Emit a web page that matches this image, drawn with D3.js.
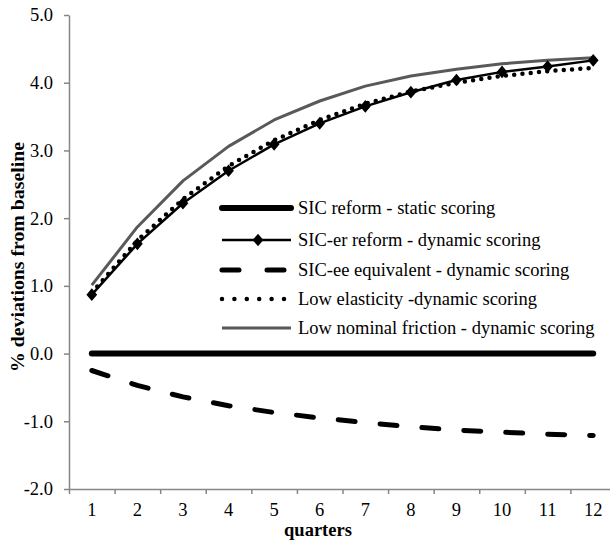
<!DOCTYPE html>
<html lang='en'>
<head>
<meta charset='utf-8'>
<title>Deviations from baseline</title>
<script type='text/javascript' src='https://cdn.jsdelivr.net/npm/d3@7/dist/d3.min.js'></script>
<style>
  body { margin: 0; background: #fff; }
  text { font-family: 'Liberation Serif', 'Times New Roman', serif; }
</style>
</head>
<body>
<script type='text/javascript'>
var quarters = [1, 2, 3, 4, 5, 6, 7, 8, 9, 10, 11, 12];
var yTicks = [-2, -1, 0, 1, 2, 3, 4, 5];

var sicStatic      = [0, 0, 0, 0, 0, 0, 0, 0, 0, 0, 0, 0];
var sicErDynamic   = [0.87, 1.62, 2.22, 2.70, 3.09, 3.40, 3.65, 3.86, 4.04, 4.16, 4.24, 4.33];
var sicEeDynamic   = [-0.25, -0.47, -0.64, -0.77, -0.87, -0.95, -1.02, -1.08, -1.13, -1.16, -1.19, -1.21];
var lowElasticity  = [0.90, 1.67, 2.28, 2.77, 3.15, 3.45, 3.69, 3.87, 4.00, 4.10, 4.17, 4.22];
var lowFriction    = [1.01, 1.87, 2.55, 3.06, 3.45, 3.73, 3.95, 4.10, 4.20, 4.28, 4.33, 4.37];

var seriesNames = [
  'SIC reform - static scoring',
  'SIC-er reform - dynamic scoring',
  'SIC-ee equivalent - dynamic scoring',
  'Low elasticity -dynamic scoring',
  'Low nominal friction - dynamic scoring'
];

var width = 610, height = 543;
var plotLeft = 69, plotRight = 616, plotTop = 15, plotBottom = 489;
var fs = 18.5;

var svg = d3.select('body').append('svg').attr('width', width).attr('height', height);

var x = d3.scaleBand().domain(quarters).range([plotLeft, plotRight]);
var xEdge = d3.scaleLinear().domain([0.5, 12.5]).range([plotLeft, plotRight]);
var y = d3.scaleLinear().domain([-2, 5]).range([plotBottom, plotTop]);
var cx = d => x(d) + x.bandwidth() / 2;

// axes
var gx = svg.append('g').attr('transform', 'translate(0,' + plotBottom + ')')
  .call(d3.axisBottom(xEdge).tickValues(d3.range(0.5, 13, 1)).tickSize(5).tickSizeOuter(0).tickFormat(''));
gx.selectAll('path, line').attr('stroke', '#868686').attr('stroke-width', 1.5);

var gxl = svg.append('g').attr('transform', 'translate(0,' + plotBottom + ')')
  .call(d3.axisBottom(x).tickSize(0).tickPadding(14));
gxl.select('.domain').remove();
gxl.selectAll('text').attr('font-size', fs).attr('fill', '#000');

var gy = svg.append('g').attr('transform', 'translate(' + plotLeft + ',0)')
  .call(d3.axisLeft(y).tickValues(yTicks).tickSize(5).tickSizeOuter(0).tickPadding(11)
    .tickFormat(d => d3.format('.1f')(d).replace('\u2212', '-')));
gy.selectAll('path, line').attr('stroke', '#868686').attr('stroke-width', 1.5);
gy.selectAll('text').attr('font-size', fs).attr('fill', '#000');

svg.append('text').attr('x', 318).attr('y', 536).attr('text-anchor', 'middle')
  .attr('font-size', fs).attr('font-weight', 'bold').text('quarters');

svg.append('text').attr('transform', 'translate(24,257) rotate(-90)').attr('text-anchor', 'middle')
  .attr('font-size', 19.8).attr('font-weight', 'bold').text('% deviations from baseline');

var line = d3.line().x((d, i) => cx(quarters[i])).y(d => y(d));

// wider diamond than d3.symbolDiamond
var wideDiamond = {
  draw: function (ctx, size) {
    var h = Math.sqrt(size) / 2, w = h * 0.85;
    ctx.moveTo(0, -h); ctx.lineTo(w, 0); ctx.lineTo(0, h); ctx.lineTo(-w, 0); ctx.closePath();
  }
};
var marker = d3.symbol().type(wideDiamond).size(160);

var styles = [
  { data: sicStatic, stroke: '#000', width: 6, dash: null, cap: 'round' },
  { data: sicErDynamic, stroke: '#000', width: 2.5, dash: null, cap: 'butt', marker: true },
  { data: sicEeDynamic, stroke: '#000', width: 5, dash: '17,25', cap: 'round' },
  { data: lowElasticity, stroke: '#000', width: 4.5, dash: '0,8.3', cap: 'round' },
  { data: lowFriction, stroke: '#595959', width: 3, dash: null, cap: 'butt' }
];

var drawOrder = [4, 0, 2, 1, 3];
drawOrder.forEach(function (k) {
  var s = styles[k];
  svg.append('path').attr('d', line(s.data)).attr('fill', 'none')
    .attr('stroke', s.stroke).attr('stroke-width', s.width)
    .attr('stroke-linecap', s.cap).attr('stroke-linejoin', 'round')
    .attr('stroke-dasharray', s.dash);
  if (s.marker) {
    svg.selectAll(null).data(s.data).enter().append('path')
      .attr('d', marker)
      .attr('transform', (d, i) => 'translate(' + cx(quarters[i]) + ',' + y(d) + ')')
      .attr('fill', '#000');
  }
});

// legend
var legendY = [208, 240, 270, 299, 328];
var lg = svg.append('g');
seriesNames.forEach(function (name, i) {
  var s = styles[i];
  var ly = legendY[i];
  lg.append('line').attr('x1', 222).attr('x2', 291).attr('y1', ly).attr('y2', ly)
    .attr('stroke', s.stroke).attr('stroke-width', s.width)
    .attr('stroke-linecap', s.cap)
    .attr('stroke-dasharray', i === 2 ? '17,28' : (i === 3 ? '0,12.4' : null));
  if (s.marker) {
    lg.append('path').attr('d', marker)
      .attr('transform', 'translate(258,' + ly + ')').attr('fill', '#000');
  }
  lg.append('text').attr('x', 298).attr('y', ly + 6).attr('font-size', fs).text(name);
});
</script>
</body>
</html>
